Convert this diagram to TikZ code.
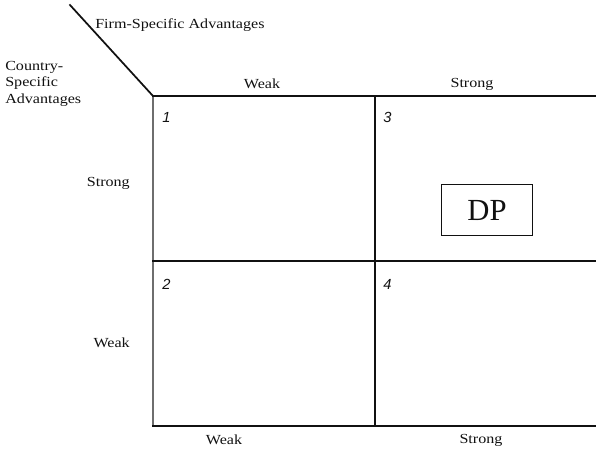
\documentclass[tikz,border=0pt]{standalone}
\usepackage{fontspec}
\setmainfont{Liberation Serif}
\newfontfamily\labfont{Liberation Serif}[FakeStretch=1.16]
\newfontfamily\numfont{Liberation Sans}
\usetikzlibrary{positioning}
\definecolor{ink}{HTML}{111111}
\definecolor{edge}{HTML}{6E6E6E}
\tikzset{
  figbase/.style={
    x=0.75pt, y=-0.75pt,
    color=ink,
    line cap=rect,
  },
  gridline/.style={draw=ink, line width=1.5pt},
  gridedge/.style={draw=edge, line width=1.4pt},
  lab/.style={font=\labfont\fontsize{10.4}{12.4}\selectfont, text=ink, inner sep=0pt},
  sidelab/.style={lab, align=left, anchor=north west},
  cellnum/.style={font=\numfont\itshape\fontsize{11}{12}\selectfont, inner sep=0pt, anchor=north west},
  dpbox/.style={draw=ink, line width=0.6pt, minimum width=68pt, minimum height=38pt,
    font=\fontsize{23}{24}\selectfont, inner sep=0pt},
}
\begin{document}
\begin{tikzpicture}[figbase]
  \useasboundingbox (0,0) rectangle (596,450);

  % matrix frame
  \coordinate (tl) at (153,96);
  \coordinate (tr) at (596,96);
  \coordinate (bl) at (153,426);
  \coordinate (br) at (596,426);
  \draw[line width=1.3pt] (70,5) -- (tl);
  \draw[gridedge] (tl) -- (bl);
  \draw[gridline] (tl) -- (tr);
  \draw[gridline] (bl) -- (br);
  \draw[gridline] (375,96) -- (375,426);
  \draw[gridline] (153,261) -- (596,261);

  % axis titles
  \node[lab, anchor=west] (firm) at (95,25) {Firm-Specific Advantages};
  \node[sidelab] (ctry) at (5,61) {Country-\\Specific\\Advantages};

  % column labels
  \node[lab] (colweak) at (262,84) {Weak};
  \node[lab] (colstrong) at (472,84) {Strong};
  \node[lab] (botweak) at (224,440) {Weak};
  \node[lab] (botstrong) at (481,440) {Strong};

  % row labels
  \node[lab, anchor=east] (rowstrong) at (130,183) {Strong};
  \node[lab, anchor=east] (rowweak) at (130,343) {Weak};

  % cell numbers
  \node[cellnum] (c1) at (162,112) {1};
  \node[cellnum] (c3) at (383,112) {3};
  \node[cellnum] (c2) at (162,279) {2};
  \node[cellnum] (c4) at (383,279) {4};

  \node[dpbox] (dp) at (487,210) {DP};
\end{tikzpicture}
\end{document}
